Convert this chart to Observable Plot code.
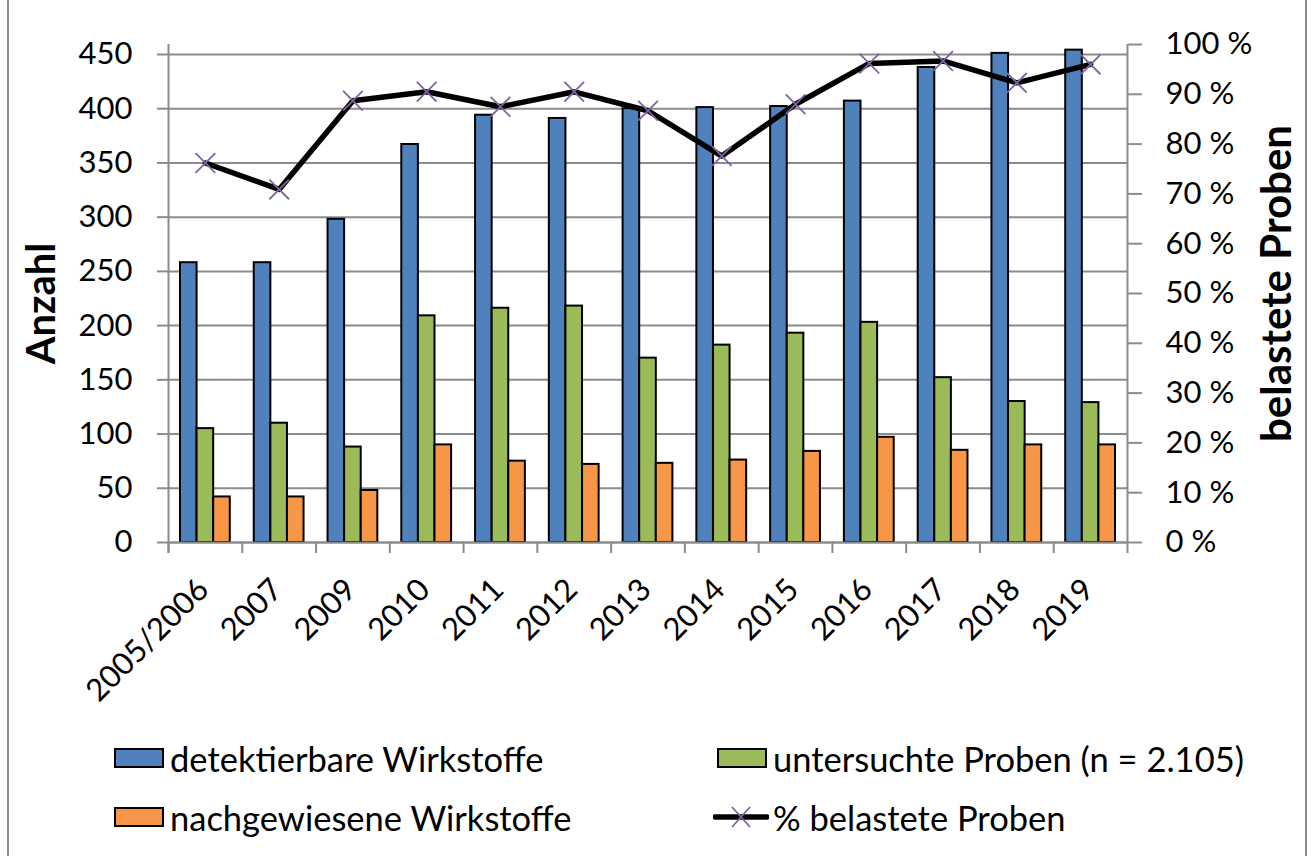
<!DOCTYPE html>
<html>
<head>
<meta charset="utf-8">
<script src="https://cdn.jsdelivr.net/npm/d3@7"></script>
<script src="https://cdn.jsdelivr.net/npm/@observablehq/plot@0.6"></script>
<style>
  html, body { margin: 0; padding: 0; background: #fff; }
  body { width: 1312px; height: 856px; position: relative; overflow: hidden; font-family: Lato, sans-serif; }
  #border { position: absolute; left: 7px; top: -4px; width: 1300px; height: 866px; border: 2px solid #8c8c8c; box-sizing: border-box; }
  #chart { position: absolute; left: 0; top: 0; }
  .leg { position: absolute; display: flex; align-items: center; font-size: 34.5px; color: #000; white-space: nowrap; }
  .sw { width: 46px; height: 16px; border: 2px solid #000; margin-right: 6px; }
</style>
</head>
<body>
<div id="border"></div>
<div id="chart"></div>
<div id="legend"></div>
<script>
// ---- data ----
const categories = ["2005/2006","2007","2009","2010","2011","2012","2013","2014","2015","2016","2017","2018","2019"];
const detektierbareWirkstoffe = [258, 258, 298, 367, 394, 391, 400, 401, 402, 407, 438, 451, 454];
const untersuchteProben       = [105, 110,  88, 209, 216, 218, 170, 182, 193, 203, 152, 130, 129];
const nachgewieseneWirkstoffe = [ 42,  42,  48,  90,  75,  72,  73,  76,  84,  97,  85,  90,  90];
const belastetePct            = [76.2, 70.9, 88.7, 90.5, 87.5, 90.5, 86.7, 77.6, 88.0, 96.2, 96.7, 92.3, 96.0];
const leftTicks  = [0, 50, 100, 150, 200, 250, 300, 350, 400, 450];
const rightTicks = [0, 10, 20, 30, 40, 50, 60, 70, 80, 90, 100];
const seriesNames = ["detektierbare Wirkstoffe", "untersuchte Proben (n = 2.105)", "nachgewiesene Wirkstoffe", "% belastete Proben"];
const seriesColors = ["#4f81bd", "#9bbb59", "#f79646"];

// left axis max so that 100 % on the right axis sits at the top of the plot
const yMax = 459.2;
const pctToY = p => p * yMax / 100;

const gray = "#8c8c8c";
const bandW = (1127 - 168) / categories.length;
const barW = 16.6;
const inset = (bandW - barW) / 2;

const barSeries = [detektierbareWirkstoffe, untersuchteProben, nachgewieseneWirkstoffe];
const bars = barSeries.map((vals, s) => categories.map((c, i) => ({cat: c, value: vals[i], s})));
const lineData = categories.map((c, i) => ({cat: c, pct: belastetePct[i]}));

const chart = Plot.plot({
  width: 1312,
  height: 700,
  marginTop: 44,
  marginBottom: 158,
  marginLeft: 168,
  marginRight: 185,
  style: {fontFamily: "Lato, sans-serif", fontSize: "31px", color: "#000", background: "transparent", overflow: "visible"},
  x: {type: "band", domain: categories, padding: 0, round: false, axis: null},
  y: {domain: [0, yMax], axis: null},
  marks: [
    Plot.ruleY(leftTicks, {stroke: gray, strokeWidth: 2}),
    Plot.axisY({anchor: "left", ticks: leftTicks, tickSize: 11, tickPadding: 25, stroke: gray, strokeWidth: 2, fill: "#000", fontSize: 31, label: null, tickFormat: d => String(d)}),
    Plot.axisY({anchor: "right", ticks: rightTicks.map(pctToY), tickSize: 14, tickPadding: 24, stroke: gray, strokeWidth: 2, fill: "#000", fontSize: 31, label: null, tickFormat: v => Math.round(v * 100 / yMax) + " %"}),
    Plot.axisX({ticks: categories, tickSize: 11, dx: -bandW / 2, stroke: gray, strokeWidth: 2, tickFormat: () => "", label: null}),
    Plot.ruleX([categories[0]], {dx: -bandW / 2, stroke: gray, strokeWidth: 2, insetBottom: -11}),
    Plot.ruleX([categories[categories.length - 1]], {dx: bandW / 2, stroke: gray, strokeWidth: 2, insetBottom: -11}),
    ...bars.map((d, s) => Plot.barY(d, {x: "cat", y: "value", fill: seriesColors[s], stroke: "#000", strokeWidth: 2, insetLeft: inset, insetRight: inset, dx: (s - 1) * barW})),
    Plot.ruleY([0], {stroke: gray, strokeWidth: 2}),
    Plot.line(lineData, {x: "cat", y: d => pctToY(d.pct), stroke: "#000", strokeWidth: 5.5}),
    Plot.dot(lineData, {x: "cat", y: d => pctToY(d.pct), symbol: "times", r: 9, stroke: "#7f63a1", strokeWidth: 1.8}),
    Plot.text(categories, {x: d => d, frameAnchor: "bottom", rotate: -45, textAnchor: "end", lineAnchor: "middle", dy: 42, dx: -2, fontSize: 31, fill: "#000"}),
    Plot.text(["Anzahl"], {frameAnchor: "left", rotate: -90, dx: -126, dy: 10, fontSize: 40, fontWeight: "bold", fill: "#000", textAnchor: "middle", lineAnchor: "middle"}),
    Plot.text(["belastete Proben"], {frameAnchor: "right", rotate: -90, dx: 150, dy: -10, fontSize: 42, fontWeight: "bold", fill: "#000", textAnchor: "middle", lineAnchor: "middle"})
  ]
});
document.getElementById("chart").appendChild(chart);

// ---- legend (HTML, below the plot) ----
const legend = document.getElementById("legend");
const legPos = [[114, 758], [717, 758], [114, 817], [713, 817]];
seriesNames.forEach((name, i) => {
  const div = document.createElement("div");
  div.className = "leg";
  div.style.left = legPos[i][0] + "px";
  div.style.top = (legPos[i][1] - 22) + "px";
  div.style.height = "44px";
  if (i < 3) {
    const sw = document.createElement("div");
    sw.className = "sw";
    sw.style.background = seriesColors[i];
    div.appendChild(sw);
  } else {
    const ns = "http://www.w3.org/2000/svg";
    const svg = document.createElementNS(ns, "svg");
    svg.setAttribute("width", 56); svg.setAttribute("height", 24);
    svg.style.marginRight = "4px";
    const ln = document.createElementNS(ns, "line");
    ln.setAttribute("x1", 2); ln.setAttribute("x2", 54); ln.setAttribute("y1", 12); ln.setAttribute("y2", 12);
    ln.setAttribute("stroke", "#000"); ln.setAttribute("stroke-width", 5.5); ln.setAttribute("stroke-linecap", "round");
    svg.appendChild(ln);
    const p = document.createElementNS(ns, "path");
    p.setAttribute("d", "M19,2L37,22M37,2L19,22");
    p.setAttribute("stroke", "#7f63a1"); p.setAttribute("stroke-width", 1.8);
    svg.appendChild(p);
    div.appendChild(svg);
  }
  const t = document.createElement("span");
  t.textContent = name;
  div.appendChild(t);
  legend.appendChild(div);
});
</script>
</body>
</html>
